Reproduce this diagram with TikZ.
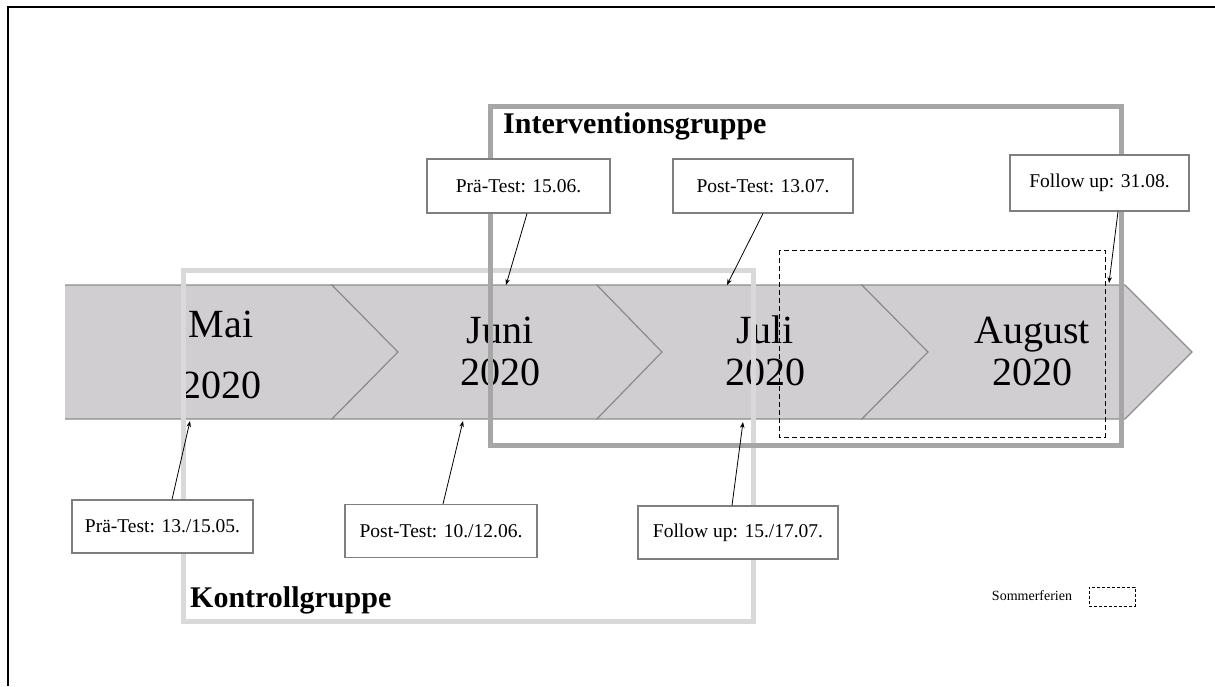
\documentclass[tikz,border=0pt]{standalone}
\usepackage{fontspec}
\setmainfont{Liberation Serif}
\usetikzlibrary{arrows.meta}

\definecolor{bandfill}{HTML}{D0CED0}
\definecolor{bandline}{HTML}{8C8C8C}
\definecolor{ctrlgray}{HTML}{D9D9D9}
\definecolor{intgray}{HTML}{A6A6A6}
\definecolor{boxline}{HTML}{7F7F7F}

\tikzset{
  chevron/.style={fill=bandfill, draw=bandline, line width=1.1pt, line join=miter},
  month/.style={anchor=base, inner sep=0pt, font=\fontsize{40}{42}\selectfont},
  groupframe/.style={line width=5pt},
  grouptitle/.style={anchor=base west, inner sep=0pt, font=\fontsize{30}{32}\selectfont\bfseries},
  datebox/.style={draw=boxline, line width=1.1pt, fill=white, inner sep=0pt,
    font=\fontsize{19.5}{22}\selectfont},
  pointer/.style={line width=0.8pt, -{Stealth[length=6pt,width=4.5pt]}},
  holiday/.style={draw=black, line width=0.9pt, dash pattern=on 5pt off 3pt},
}

\begin{document}
\begin{tikzpicture}[x=1pt, y=-1pt]
\useasboundingbox (0,0) rectangle (1215,686);

% page frame (top and left edges)
\draw[line width=2.5pt] (1215,7) -- (8,7) -- (8,686);

% timeline band made of four chevron segments
\fill[bandfill] (65,285) -- (332,285) -- (398,352) -- (332,419) -- (65,419) -- cycle;
\draw[bandline, line width=1.1pt] (65,419) -- (332,419) -- (398,352) -- (332,285) -- (65,285);
\draw[chevron] (332,285) -- (597,285) -- (662,352) -- (597,419) -- (332,419) -- (398,352) -- cycle;
\draw[chevron] (597,285) -- (862,285) -- (928,352) -- (862,419) -- (597,419) -- (662,352) -- cycle;
\draw[chevron] (862,285) -- (1125,285) -- (1192,352) -- (1125,419) -- (862,419) -- (928,352) -- cycle;

% month labels
\node[month] (mai1) at (221,337) {Mai};
\node[month] (mai2) at (221,398) {2020};
\node[month] (juni1) at (500,343) {Juni};
\node[month] (juni2) at (500,385) {2020};
\node[month] (juli1) at (765,343) {Juli};
\node[month] (juli2) at (765,385) {2020};
\node[month] (aug1) at (1032,343) {August};
\node[month] (aug2) at (1032,385) {2020};

% summer holidays
\draw[holiday] (779,250) rectangle (1105,437);

% control group frame
\draw[groupframe, ctrlgray] (183,270) rectangle (753,621);
\node[grouptitle] (ktitle) at (190,607) {Kontrollgruppe};

% intervention group frame
\draw[groupframe, intgray] (490,106) rectangle (1121,445);
\node[grouptitle] (ititle) at (503,133) {Interventionsgruppe};

% measurement dates of the intervention group
\node[datebox, minimum width=183pt, minimum height=54pt] (ip) at (518.5,186) {Prä-Test: 15.06.};
\node[datebox, minimum width=180pt, minimum height=54pt] (ipo) at (763,186) {Post-Test: 13.07.};
\node[datebox, minimum width=179pt, minimum height=56pt] (ifu) at (1099.5,183) {Follow up: 31.08.};

% measurement dates of the control group
\node[datebox, minimum width=181pt, minimum height=53pt] (kp) at (162.5,526.5) {Prä-Test: 13./15.05.};
\node[datebox, minimum width=192pt, minimum height=53pt] (kpo) at (441,531) {Post-Test: 10./12.06.};
\node[datebox, minimum width=200pt, minimum height=53pt] (kfu) at (738,532.5) {Follow up: 15./17.07.};

% arrow targets on the band
\coordinate (tip) at (506,285);
\coordinate (tipo) at (727,285);
\coordinate (tifu) at (1109,283);
\coordinate (tkp) at (190,421);
\coordinate (tkpo) at (463,421);
\coordinate (tkfu) at (743,422);

\draw[pointer] ([xshift=8.5pt]ip.south) -- (tip);
\draw[pointer] (ipo.south) -- (tipo);
\draw[pointer] ([xshift=18.5pt]ifu.south) -- (tifu);
\draw[pointer] ([xshift=9.5pt]kp.north) -- (tkp);
\draw[pointer] ([xshift=2pt]kpo.north) -- (tkpo);
\draw[pointer] ([xshift=-6pt]kfu.north) -- (tkfu);

% legend
\node[inner sep=0pt, font=\fontsize{14}{16}\selectfont] (legtext) at (1032,596) {Sommerferien};
\node[holiday, dash pattern=on 3pt off 2pt, minimum width=46pt, minimum height=19pt, inner sep=0pt] (legbox) at (1112,596.5) {};
\end{tikzpicture}
\end{document}
